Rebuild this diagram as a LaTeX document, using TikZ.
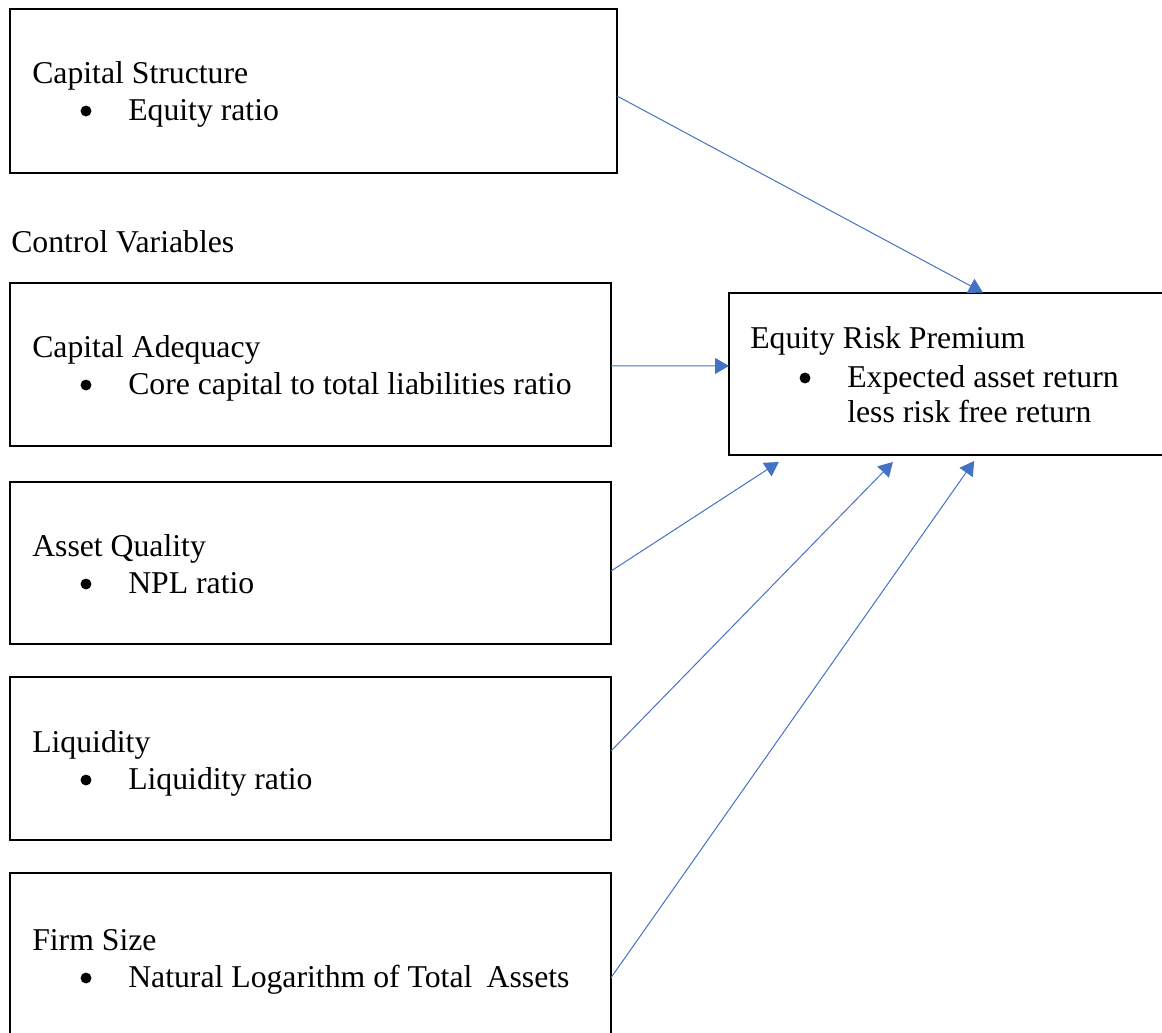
\documentclass[tikz,border=0pt]{standalone}
\usepackage{fontspec}
\setmainfont{Liberation Serif}
\usetikzlibrary{arrows.meta,calc,fit}
\definecolor{arrblue}{HTML}{4472C4}
\tikzset{
  box/.style={draw=black,line width=1.5pt,inner sep=0pt,outer sep=0pt,rectangle},
  txt/.style={anchor=base west,inner sep=0pt,font=\fontsize{23.8}{27}\selectfont},
  bul/.style={circle,fill=black,inner sep=0pt,minimum size=8.2pt},
  arr/.style={draw=arrblue,line width=0.75pt,-{Triangle[length=10.5pt,width=12pt]}}
}
\begin{document}
\begin{tikzpicture}[x=0.75pt,y=-0.75pt]
\useasboundingbox (0,0) rectangle (1162,1032);
\clip (0,0) rectangle (1162,1032);
% boxes
\node[box,fit={(10,9) (617,172.5)}] (cs) {};
\node[box,fit={(10,282.5) (611,445.5)}] (ca) {};
\node[box,fit={(10,481.5) (611,644)}] (aq) {};
\node[box,fit={(10,676.7) (611,840)}] (lq) {};
\node[box,fit={(10,873) (611,1036)}] (fs) {};
\node[box,fit={(729,292.5) (1166,455)}] (erp) {};
% texts
\node[txt] (t1) at (32,83) {Capital Structure};
\node[bul] (b1) at (86,111) {};
\node[txt] (i1) at (128,120) {Equity ratio};
\node[txt] (cv) at (11,252) {Control Variables};
\node[txt] (t2) at (32,357) {Capital Adequacy};
\node[bul] (b2) at (86,385) {};
\node[txt] (i2) at (128,394) {Core capital to total liabilities ratio};
\node[txt] (t3) at (32,556) {Asset Quality};
\node[bul] (b3) at (86,584) {};
\node[txt] (i3) at (128,593) {NPL ratio};
\node[txt] (t4) at (32,752) {Liquidity};
\node[bul] (b4) at (86,780) {};
\node[txt] (i4) at (128,789) {Liquidity ratio};
\node[txt] (t5) at (32,950) {Firm Size};
\node[bul] (b5) at (86,978) {};
\node[txt] (i5) at (128,987) {Natural Logarithm of Total\hspace{0.2em} Assets};
\node[txt] (t6) at (750,348) {Equity Risk Premium};
\node[bul] (b6) at (805,378) {};
\node[txt] (i6) at (847,387) {Expected asset return};
\node[txt] (i7) at (847,422) {less risk free return};
% connectors
\draw[arr] ($(cs.north east)!0.532!(cs.south east)$) -- ($(erp.north west)!0.581!(erp.north east)$);
\draw[arr] ($(ca.north east)!0.512!(ca.south east)$) -- ($(erp.north west)!0.452!(erp.south west)$);
\draw[arr] ($(aq.north east)!0.551!(aq.south east)$) -- ($(erp.south west)!0.114!(erp.south east)+(0,7)$);
\draw[arr] ($(lq.north east)!0.455!(lq.south east)$) -- ($(erp.south west)!0.375!(erp.south east)+(0,7)$);
\draw[arr] ($(fs.north east)!0.642!(fs.south east)$) -- ($(erp.south west)!0.561!(erp.south east)+(0,6)$);
\end{tikzpicture}
\end{document}
